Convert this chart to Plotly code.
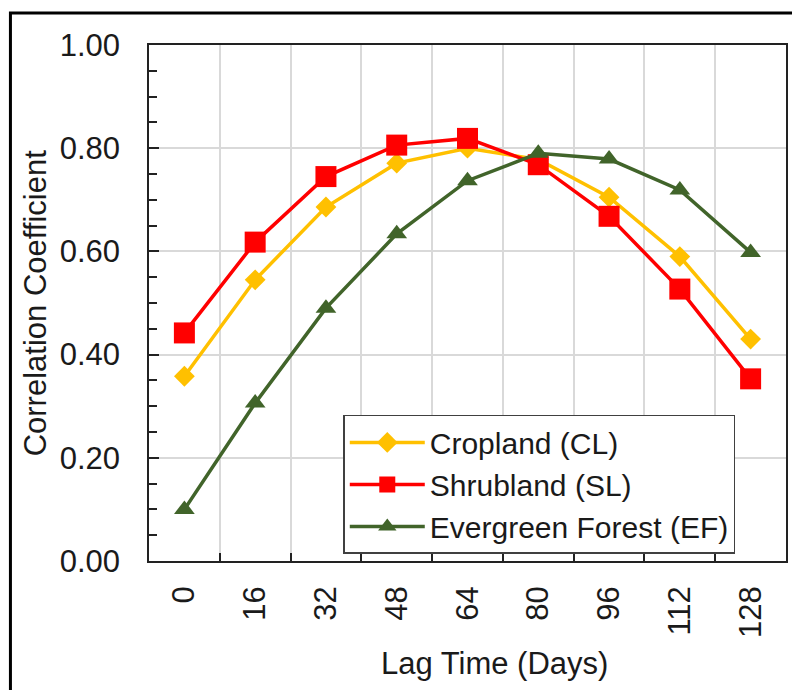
import plotly.graph_objects as go

lag_days = ["0", "16", "32", "48", "64", "80", "96", "112", "128"]
cropland = [0.358, 0.545, 0.686, 0.771, 0.800, 0.778, 0.705, 0.590, 0.430]
shrubland = [0.442, 0.618, 0.745, 0.806, 0.819, 0.768, 0.668, 0.527, 0.353]
evergreen = [0.100, 0.306, 0.490, 0.634, 0.737, 0.790, 0.779, 0.719, 0.598]
y_ticks = [0.0, 0.2, 0.4, 0.6, 0.8, 1.0]
y_tick_text = ["0.00", "0.20", "0.40", "0.60", "0.80", "1.00"]

FONT = "Arial, Liberation Sans, sans-serif"
TXT = "#1a1a1a"

fig = go.Figure()
fig.add_trace(go.Scatter(x=lag_days, y=cropland, mode="lines+markers", name="Cropland (CL)",
                         line=dict(color="#FFC000", width=3.5),
                         marker=dict(symbol="diamond", size=16, color="#FFC000")))
fig.add_trace(go.Scatter(x=lag_days, y=shrubland, mode="lines+markers", name="Shrubland (SL)",
                         line=dict(color="#FF0000", width=3.5),
                         marker=dict(symbol="square", size=21, color="#FF0000")))
fig.add_trace(go.Scatter(x=lag_days, y=evergreen, mode="lines+markers", name="Evergreen Forest (EF)",
                         line=dict(color="#41642A", width=3.5),
                         marker=dict(symbol="triangle-up", size=18, color="#41642A")))

fig.update_layout(
    width=792, height=690,
    margin=dict(l=149, r=4, t=45, b=129),
    paper_bgcolor="white", plot_bgcolor="white",
    font=dict(family=FONT, size=31, color=TXT),
    showlegend=True,
    legend=dict(x=0.305, y=0.283, xanchor="left", yanchor="top",
                bgcolor="white", bordercolor="#404040", borderwidth=1.5,
                font=dict(size=30, family=FONT, color=TXT),
                itemwidth=75, tracegroupgap=0),
    xaxis=dict(type="category", tickson="boundaries", range=[-0.5, 8.5],
               showgrid=True, gridcolor="#d9d9d9", gridwidth=1.5,
               ticks="inside", ticklen=8, tickcolor="#222", tickwidth=1.5,
               tickangle=-90, tickfont=dict(size=31, family=FONT, color=TXT),
               ticklabelstandoff=11,
               showline=True, linecolor="#222", linewidth=1.5, mirror=True,
               zeroline=False, fixedrange=True),
    yaxis=dict(range=[0, 1], tickvals=y_ticks, ticktext=y_tick_text,
               showgrid=True, gridcolor="#d9d9d9", gridwidth=1.5,
               ticks="inside", ticklen=10, tickcolor="#222", tickwidth=1.5,
               minor=dict(dtick=0.05, ticks="inside", ticklen=8, tickcolor="#222",
                          tickwidth=1.5, showgrid=False),
               tickfont=dict(size=31, family=FONT, color=TXT),
               ticklabelstandoff=21,
               showline=True, linecolor="#222", linewidth=1.5, mirror=True,
               zeroline=False, fixedrange=True),
)

# axis titles
fig.add_annotation(text="Correlation Coefficient", xref="paper", yref="paper",
                   x=(35 - 149) / 639, y=0.5, showarrow=False, textangle=-90,
                   xanchor="center", yanchor="middle",
                   font=dict(size=31, family=FONT, color=TXT))
fig.add_annotation(text="Lag Time (Days)", xref="paper", yref="paper",
                   x=(496 - 149) / 639, y=(561 - 663) / 516, showarrow=False,
                   xanchor="center", yanchor="middle",
                   font=dict(size=31, family=FONT, color=TXT))

# outer frame
fig.add_shape(type="rect", xref="paper", yref="paper",
              x0=(10 - 149) / 639, x1=(830 - 149) / 639,
              y0=(561 - 730) / 516, y1=(561 - 13) / 516,
              line=dict(color="black", width=3), fillcolor="rgba(0,0,0,0)", layer="above")

fig.write_html("out.html")
